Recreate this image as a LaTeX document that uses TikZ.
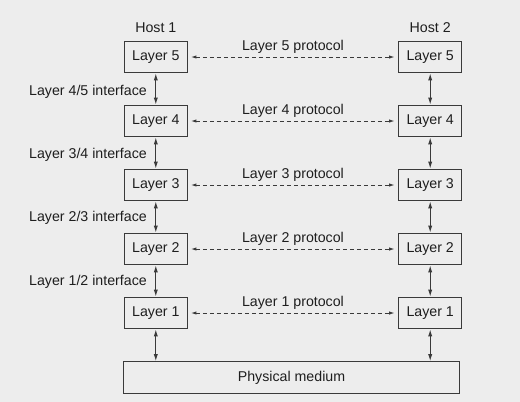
\documentclass[tikz,border=0pt]{standalone}
\usepackage{fontspec}
\setmainfont{Liberation Sans}
\usetikzlibrary{arrows.meta}
\definecolor{bggray}{HTML}{EDEDED}
\definecolor{linegray}{HTML}{3A3A3A}
\definecolor{textgray}{HTML}{1E1E1E}
\begin{document}
\begin{tikzpicture}[x=1pt,y=-1pt,
  font=\fontsize{14.2}{16}\selectfont,
  layerbox/.style={draw=linegray, line width=1.15pt, minimum width=63pt,
    minimum height=31.6pt, inner sep=0pt, text=textgray},
  label/.style={text=textgray, inner sep=0pt},
  iface/.style={draw=linegray, line width=1pt,
    {Latex[length=7pt,width=4.2pt]}-{Latex[length=7pt,width=4.2pt]}},
  proto/.style={draw=linegray, line width=0.95pt, dash pattern=on 4pt off 3pt,
    {Latex[length=5.5pt,width=3.4pt]}-{Latex[length=5.5pt,width=3.4pt]},
    shorten <=3pt, shorten >=3.5pt}]
  % background
  \fill[bggray] (0,0) rectangle (520,402);
  \useasboundingbox (0,0) rectangle (520,402);

  % host titles
  \node[label, anchor=base] (h1) at (155.8,32.3) {Host 1};
  \node[label, anchor=base] (h2) at (430.2,32.3) {Host 2};

  % layer stacks on both hosts with peer protocols
  \foreach \i [evaluate=\i as \yc using {57+(5-\i)*64}] in {5,4,3,2,1} {
    \node[layerbox] (L\i) at (155.8,\yc) {Layer \i};
    \node[layerbox] (R\i) at (430.2,\yc) {Layer \i};
    \draw[proto] (L\i.east) -- (R\i.west)
      node[midway, above=6.5pt, label, anchor=base] {Layer \i\ protocol};
  }

  % physical medium
  \node[layerbox, minimum width=336.4pt] (pm) at (291.5,377.5) {Physical medium};

  % interfaces between adjacent layers
  \foreach \i/\j in {5/4,4/3,3/2,2/1} {
    \draw[iface] (L\i.south) -- (L\j.north);
    \draw[iface] (R\i.south) -- (R\j.north);
  }
  \draw[iface] (L1.south) -- (L1.south |- pm.north);
  \draw[iface] (R1.south) -- (R1.south |- pm.north);

  % interface labels
  \foreach \i/\j/\yb in {4/5/95,3/4/158,2/3/221,1/2/285} {
    \node[label, anchor=base east] at (147,\yb) {Layer \i/\j\ interface};
  }
\end{tikzpicture}
\end{document}
